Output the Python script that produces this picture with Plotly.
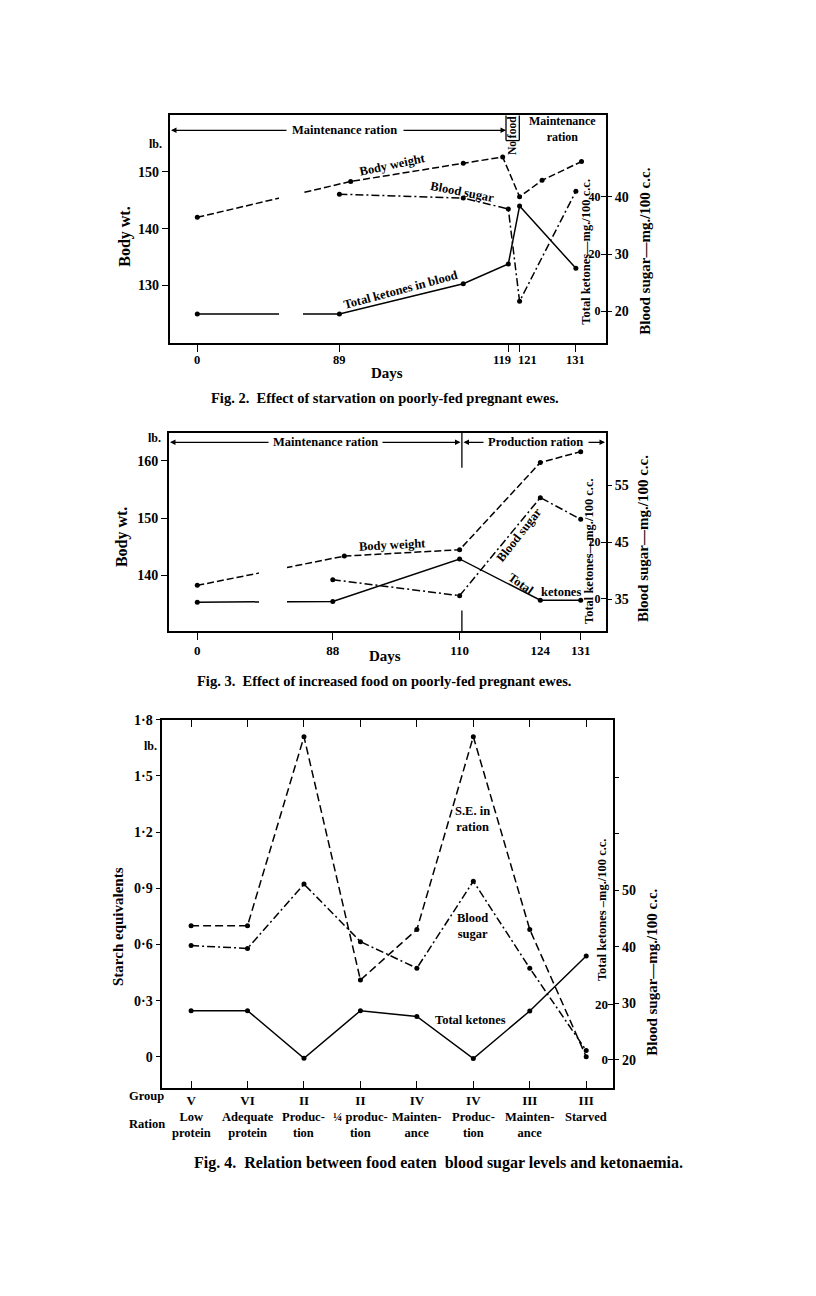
import plotly.graph_objects as go

# ---------------- data ----------------
# Fig. 2  (days, body weight lb, blood sugar mg/100cc, total ketones mg/100cc)
f2_ticks = [0, 89, 119, 121, 131]
f2_bw_days = [0, 91, 111, 118, 121, 125, 132]
f2_bw = [142.0, 148.3, 151.5, 152.6, 145.6, 148.5, 151.8]
f2_sugar_days = [89, 111, 119, 121, 131]
f2_sugar = [40.5, 39.8, 37.9, 21.7, 41.0]
f2_ket_days = [0, 89, 111, 119, 121, 131]
f2_ket = [-1.0, -1.0, 9.6, 16.5, 36.8, 15.0]

# Fig. 3
f3_ticks = [0, 88, 110, 124, 131]
f3_bw_days = [0, 90, 110, 124, 131]
f3_bw = [138.3, 143.4, 144.5, 159.7, 161.6]
f3_sugar_days = [88, 110, 124, 131]
f3_sugar = [38.4, 35.6, 52.8, 49.0]
f3_ket_days = [0, 88, 110, 124, 131]
f3_ket = [-1.2, -0.9, 14.1, -0.5, -0.5]

# Fig. 4
f4_groups = ["V", "VI", "II", "II", "IV", "IV", "III", "III"]
f4_rations = ["Low<br>protein", "Adequate<br>protein", "Produc-<br>tion", "¼ produc-<br>tion",
              "Mainten-<br>ance", "Produc-<br>tion", "Mainten-<br>ance", "Starved"]
f4_se = [0.70, 0.70, 1.71, 0.41, 0.68, 1.71, 0.68, 0.0]
f4_sugar = [40.2, 39.7, 51.1, 40.9, 36.2, 51.6, 36.2, 21.6]
f4_ket = [17.7, 17.7, 0.5, 17.7, 15.6, 0.4, 17.6, 37.5]
f4_left_ticks = [0, 0.3, 0.6, 0.9, 1.2, 1.5, 1.8]
f4_left_text = ["0", "0·3", "0·6", "0·9", "1·2", "1·5", "1·8"]

# ---------------- layout helpers ----------------
W, H = 816, 1296
FONT = "Liberation Serif"


def PX(x):
    return x / W


def PY(y):
    return 1 - y / H


# broken day axes: days before the break are compressed
def disp2(d):
    return d if d >= 89 else 63.76 + d * (89 - 63.76) / 89


def disp3(d):
    return d if d >= 88 else 64.5 + d * (88 - 64.5) / 88


BLK = "black"
DASH = "7px,3px"
DASHDOT = "8px,3px,2px,3px"
MK = dict(size=5, color=BLK)

fig = go.Figure()


def add(x, y, xa, ya, dash):
    fig.add_trace(go.Scatter(x=x, y=y, xaxis=xa, yaxis=ya, mode="lines+markers",
                             line=dict(color=BLK, width=1.5, dash=dash), marker=MK,
                             showlegend=False, hoverinfo="skip"))


add([disp2(d) for d in f2_bw_days], f2_bw, "x", "y", DASH)
add([disp2(d) for d in f2_sugar_days], f2_sugar, "x", "y2", DASHDOT)
add([disp2(d) for d in f2_ket_days], f2_ket, "x", "y3", "solid")

add([disp3(d) for d in f3_bw_days], f3_bw, "x2", "y4", DASH)
add([disp3(d) for d in f3_sugar_days], f3_sugar, "x2", "y5", DASHDOT)
add([disp3(d) for d in f3_ket_days], f3_ket, "x2", "y6", "solid")

idx = list(range(len(f4_groups)))
add(idx, f4_se, "x3", "y7", "8px,4px")
add(idx, f4_sugar, "x3", "y8", DASHDOT)
add(idx, f4_ket, "x3", "y9", "solid")


def tf(size=14):
    return dict(family=FONT, size=size, color=BLK, weight="bold")


base_axis = dict(showgrid=False, zeroline=False, linecolor=BLK, tickcolor=BLK, tickfont=tf())


def box_x(**kw):
    d = dict(base_axis, showline=True, mirror=True, linewidth=1.5, tickangle=0)
    d.update(kw)
    return d


def box_y(**kw):
    d = dict(base_axis, showline=True, mirror=True, linewidth=1.5, ticks="outside", ticklen=6)
    d.update(kw)
    return d


def right_y(**kw):
    d = dict(base_axis, showline=False, side="right")
    d.update(kw)
    return d


fig.update_layout(
    width=W, height=H, autosize=False,
    margin=dict(l=0, r=0, t=0, b=0),
    paper_bgcolor="white", plot_bgcolor="white",
    font=dict(family=FONT, color=BLK),
    # Fig 2 (tick labels written below as annotations because 119 and 121 sit very close)
    xaxis=box_x(domain=[PX(169.5), PX(606)], range=[58.82, 136.35], anchor="y",
                tickvals=[disp2(d) for d in f2_ticks], showticklabels=False,
                ticks="outside", ticklen=7),
    yaxis=box_y(domain=[PY(338), PY(109)], range=[119.85, 159.92], anchor="x",
                tickvals=[130, 140, 150]),
    yaxis2=right_y(overlaying="y", anchor="x", range=[14.37, 54.3], tickvals=[20, 30, 40],
                   ticks="outside", ticklen=5),
    yaxis3=right_y(overlaying="y", anchor="x", range=[-11.26, 68.6], tickvals=[0, 20, 40],
                   ticks="inside", ticklen=5, ticklabelposition="inside", tickfont=tf(12)),
    # Fig 3
    xaxis2=box_x(domain=[PX(168.7), PX(606)], range=[59.54, 135.39], anchor="y4",
                 tickvals=[disp3(d) for d in f3_ticks], ticktext=[str(d) for d in f3_ticks],
                 ticks="outside", ticklen=7, tickfont=tf(13)),
    yaxis4=box_y(domain=[PY(627.3), PY(428.3)], range=[130.36, 164.85], anchor="x2",
                 tickvals=[140, 150, 160]),
    yaxis5=right_y(overlaying="y4", anchor="x2", range=[29.42, 64.14], tickvals=[35, 45, 55],
                   ticks="outside", ticklen=5),
    yaxis6=right_y(overlaying="y4", anchor="x2", range=[-11.33, 58.6], tickvals=[0, 20],
                   ticks="inside", ticklen=5, ticklabelposition="inside", tickfont=tf(12)),
    # Fig 4
    xaxis3=box_x(domain=[PX(162.3), PX(613.3)], range=[-0.51, 7.48], anchor="y7",
                 tickvals=idx, ticktext=f4_groups, ticks="inside", ticklen=7, mirror="ticks",
                 tickfont=tf(13)),
    yaxis7=box_y(domain=[PY(1086.7), PY(716.7)], range=[-0.166, 1.80], anchor="x3",
                 tickvals=f4_left_ticks, ticktext=f4_left_text, ticklen=5),
    yaxis8=right_y(overlaying="y7", anchor="x3", range=[15.0, 80.2],
                   tickvals=[20, 30, 40, 50, 60, 70], ticktext=["20", "30", "40", "50", "", ""],
                   ticks="outside", ticklen=5),
    yaxis9=right_y(overlaying="y7", anchor="x3", range=[-10.2, 122.9], tickvals=[0, 20],
                   ticks="inside", ticklen=5, ticklabelposition="inside", tickfont=tf(13)),
)

ann = []


def text(x, y, s, size=12, angle=0, bold=False, xanchor="center", yanchor="middle", **kw):
    d = dict(x=PX(x), y=PY(y), xref="paper", yref="paper", text=("<b>%s</b>" % s) if bold else s,
             showarrow=False, textangle=angle, xanchor=xanchor, yanchor=yanchor,
             font=dict(family=FONT, size=size, color=BLK))
    d.update(kw)
    ann.append(d)


def arrow(xh, y, xt):
    ann.append(dict(x=PX(xh), y=PY(y), xref="paper", yref="paper", ax=xt - xh, ay=0,
                    axref="pixel", ayref="pixel", showarrow=True, arrowhead=2, arrowsize=1,
                    arrowwidth=1.1, arrowcolor=BLK, text=""))


shapes = []


def seg(x0, y0, x1, y1, w=1.3):
    shapes.append(dict(type="line", xref="paper", yref="paper", x0=PX(x0), y0=PY(y0),
                       x1=PX(x1), y1=PY(y1), line=dict(color=BLK, width=w), layer="above"))


def blank(x0, y0, x1, y1):
    shapes.append(dict(type="rect", xref="paper", yref="paper", x0=PX(x0), y0=PY(y0),
                       x1=PX(x1), y1=PY(y1), line=dict(width=0), fillcolor="white", layer="above"))


# ---- Fig 2 annotations ----
# day tick labels, placed at the axis positions of their days
for d in f2_ticks:
    anchor, shift = "center", 0
    if d == 119:
        anchor, shift = "right", 5
    elif d == 121:
        anchor, shift = "left", -4
    ann.append(dict(x=disp2(d), y=PY(346), xref="x", yref="paper", text="<b>%d</b>" % d,
                    showarrow=False, xanchor=anchor, yanchor="top", xshift=shift,
                    font=dict(family=FONT, size=12.5, color=BLK)))

blank(279, 150, 303, 335)
text(344, 124, "Maintenance ration", 12.5, bold=True)
arrow(171, 124, 288)
arrow(506, 124, 402)
seg(506, 109, 506, 134.3)
seg(519.3, 109, 519.3, 134.3)
seg(506, 134.3, 519.3, 134.3)
text(512.8, 129, "No food", 11.5, angle=-90, bold=True)
text(562.7, 122.7, "Maintenance<br>ration", 12, bold=True)
text(164, 138, "lb.", 12, bold=True, xanchor="right")
text(392, 159, "Body weight", 12.5, angle=-12, bold=True)
text(462.5, 186, "Blood sugar", 12.5, angle=11, bold=True)
text(400, 285, "Total ketones in blood", 12.5, angle=-15, bold=True)
text(125, 231, "Body wt.", 16, angle=-90, bold=True)
text(586, 246, "Total ketones—mg./100 c.c.", 12.5, angle=-90, bold=True)
text(645, 246, "Blood sugar—mg./100 c.c.", 15, angle=-90, bold=True)
text(387, 368, "Days", 15, bold=True)
text(385, 393, "Fig. 2.  Effect of starvation on poorly-fed pregnant ewes.", 14.5, bold=True)

# ---- Fig 3 annotations ----
blank(259, 540, 287, 623)
text(154, 433, "lb.", 12, bold=True)
text(325.4, 437.7, "Maintenance ration", 12.5, bold=True)
arrow(170, 437.7, 270)
arrow(460.5, 437.7, 381)
seg(461.9, 428.3, 461.9, 463.3)
seg(461.9, 606.7, 461.9, 627.3)
text(535, 437.7, "Production ration", 12.5, bold=True)
arrow(463.5, 437.7, 485)
arrow(605, 437.7, 587)
text(392, 541, "Body weight", 12.5, angle=-3, bold=True)
text(519, 531, "Blood sugar", 12.5, angle=-52, bold=True)
text(521, 580, "Total", 12.5, angle=35, bold=True)
text(561, 588, "ketones", 12.5, bold=True)
text(122, 533, "Body wt.", 16, angle=-90, bold=True)
text(589, 547, "Total ketones—mg./100 c.c.", 12.5, angle=-90, bold=True)
text(643, 535, "Blood sugar—mg./100 c.c.", 15, angle=-90, bold=True)
text(385, 653, "Days", 15, bold=True)
text(384, 678, "Fig. 3.  Effect of increased food on poorly-fed pregnant ewes.", 14.5, bold=True)

# ---- Fig 4 annotations ----
text(150, 743, "lb.", 12, bold=True)
text(472, 816, "S.E. in<br>ration", 12.5, bold=True)
text(472, 924, "Blood<br>sugar", 12.5, bold=True)
text(471, 1018, "Total ketones", 12.5, bold=True)
text(118, 925, "Starch equivalents", 15, angle=-90, bold=True)
text(602, 908, "Total ketones –mg./100 c.c.", 12.5, angle=-90, bold=True)
text(652, 971, "Blood sugar—mg./100 c.c.", 15, angle=-90, bold=True)
text(146, 1095, "Group", 12.5, bold=True)
text(147, 1123, "Ration", 12.5, bold=True)
for i, r in enumerate(f4_rations):
    ann.append(dict(x=i, y=PY(1107), xref="x3", yref="paper", text="<b>%s</b>" % r,
                    showarrow=False, xanchor="center", yanchor="top",
                    font=dict(family=FONT, size=12.5, color=BLK)))
text(438, 1162, "Fig. 4.  Relation between food eaten  blood sugar levels and ketonaemia.", 16, bold=True)

fig.update_layout(annotations=ann, shapes=shapes)
fig.write_html("out.html", config={"displayModeBar": False})

# remove the default page margin so the figure sits at the page origin
with open("out.html", encoding="utf-8") as fh:
    html = fh.read()
html = html.replace("<head>", "<head><style>html,body{margin:0;padding:0;}</style>", 1)
with open("out.html", "w", encoding="utf-8") as fh:
    fh.write(html)
